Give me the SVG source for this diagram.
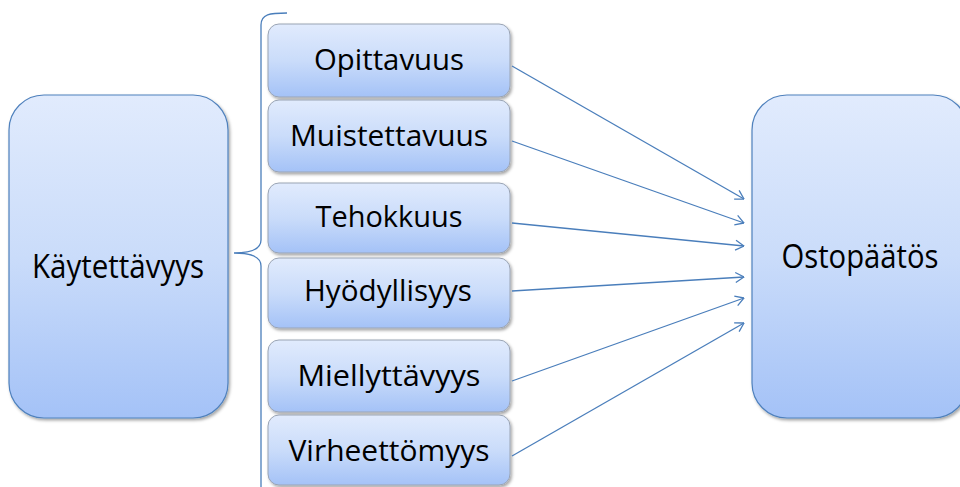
<svg xmlns="http://www.w3.org/2000/svg" width="960" height="487" viewBox="0 0 960 487">
<defs>
<linearGradient id="g" x1="0" y1="0" x2="0" y2="1">
<stop offset="0" stop-color="#e1ebfd"/>
<stop offset="0.5" stop-color="#cadcfa"/>
<stop offset="1" stop-color="#a4c2f7"/>
</linearGradient>
<filter id="sh" x="-10%" y="-10%" width="120%" height="120%">
<feDropShadow dx="1.5" dy="2" stdDeviation="1.5" flood-color="#000" flood-opacity="0.35"/>
</filter>
<marker id="ah" viewBox="0 0 10 12" refX="9.5" refY="6" markerWidth="10" markerHeight="12" markerUnits="userSpaceOnUse" orient="auto">
<path d="M1 1 L9.5 6 L1 11" fill="none" stroke="#4a7ebb" stroke-width="1.3"/>
</marker>
<style>
.big{fill:url(#g);stroke:#4f81bd;stroke-width:1.2;filter:url(#sh)}
.sm{fill:url(#g);stroke:#9aa4b4;stroke-width:1;filter:url(#sh)}
text{font-family:"Open Sans","Noto Sans",sans-serif;font-size:29.5px;fill:#000;text-anchor:middle}
.bt{font-size:32px}
.c{fill:none;stroke:#4a7ebb;stroke-width:1.3}
</style>
</defs>
<g id="kaytettavyys">
<rect class="big" x="9" y="95" width="219" height="323" rx="35"/>
<text class="bt" x="118" y="278" textLength="172" lengthAdjust="spacingAndGlyphs">Käytettävyys</text>
</g>
<g id="ostopaatos">
<rect class="big" x="752" y="95" width="216" height="323" rx="35"/>
<text class="bt" x="860" y="268" textLength="157" lengthAdjust="spacingAndGlyphs">Ostopäätös</text>
</g>
<g id="opittavuus">
<rect class="sm" x="268" y="24" width="242" height="73" rx="11"/>
<text x="389" y="70" textLength="150" lengthAdjust="spacingAndGlyphs">Opittavuus</text>
</g>
<g id="muistettavuus">
<rect class="sm" x="268" y="100" width="242" height="72" rx="11"/>
<text x="389" y="146" textLength="198" lengthAdjust="spacingAndGlyphs">Muistettavuus</text>
</g>
<g id="tehokkuus">
<rect class="sm" x="268" y="183" width="242" height="70" rx="11"/>
<text x="389" y="227" textLength="147" lengthAdjust="spacingAndGlyphs">Tehokkuus</text>
</g>
<g id="hyodyllisyys">
<rect class="sm" x="268" y="258" width="242" height="70" rx="11"/>
<text x="388" y="301" textLength="168" lengthAdjust="spacingAndGlyphs">Hyödyllisyys</text>
</g>
<g id="miellyttavyys">
<rect class="sm" x="268" y="340" width="242" height="72" rx="11"/>
<text x="389" y="386" textLength="183" lengthAdjust="spacingAndGlyphs">Miellyttävyys</text>
</g>
<g id="virheettomyys">
<rect class="sm" x="268" y="415" width="242" height="70" rx="11"/>
<text x="389" y="461" textLength="201" lengthAdjust="spacingAndGlyphs">Virheettömyys</text>
</g>
<g id="connectors">
<path class="c" d="M287 13 C270 13 261 14 261 25 L261 240 C261 249 252 253 234 253 C252 253 261 257 261 266 L261 495"/>
<line class="c" x1="512" y1="66" x2="744" y2="199" marker-end="url(#ah)"/>
<line class="c" x1="512" y1="141" x2="744" y2="223" marker-end="url(#ah)"/>
<line class="c" x1="512" y1="223" x2="744" y2="246" marker-end="url(#ah)"/>
<line class="c" x1="512" y1="291" x2="744" y2="277" marker-end="url(#ah)"/>
<line class="c" x1="512" y1="381" x2="744" y2="298" marker-end="url(#ah)"/>
<line class="c" x1="512" y1="456" x2="744" y2="323" marker-end="url(#ah)"/>
</g>
</svg>
